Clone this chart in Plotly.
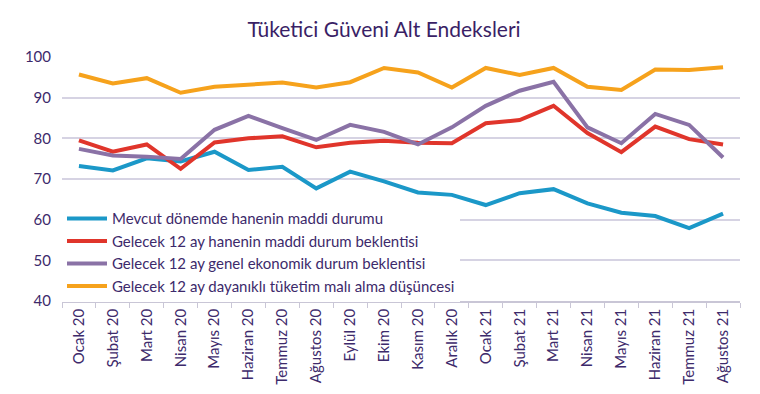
import plotly.graph_objects as go

months = ["Ocak 20", "Şubat 20", "Mart 20", "Nisan 20", "Mayıs 20", "Haziran 20",
          "Temmuz 20", "Ağustos 20", "Eylül 20", "Ekim 20", "Kasım 20", "Aralık 20",
          "Ocak 21", "Şubat 21", "Mart 21", "Nisan 21", "Mayıs 21", "Haziran 21",
          "Temmuz 21", "Ağustos 21"]

mevcut = [73.2, 72.1, 75.1, 74.3, 76.7, 72.2, 73.0, 67.7, 71.8, 69.4, 66.7, 66.1,
          63.6, 66.5, 67.5, 64.0, 61.7, 60.9, 57.9, 61.5]
hane_beklenti = [79.5, 76.7, 78.5, 72.5, 79.0, 80.0, 80.5, 77.8, 78.9, 79.4, 78.9, 78.8,
                 83.7, 84.5, 88.0, 81.3, 76.6, 82.9, 79.8, 78.5]
genel_beklenti = [77.4, 75.8, 75.5, 74.9, 82.1, 85.5, 82.5, 79.6, 83.3, 81.6, 78.5, 82.7,
                  88.0, 91.7, 93.9, 82.7, 78.8, 86.0, 83.3, 75.3]
dayanikli = [95.7, 93.5, 94.8, 91.2, 92.7, 93.3, 93.7, 92.5, 93.8, 97.3, 96.2, 92.5,
             97.3, 95.6, 97.3, 92.7, 91.9, 96.9, 96.8, 97.5]

series_names = ["Mevcut dönemde hanenin maddi durumu",
                "Gelecek 12 ay hanenin maddi durum beklentisi",
                "Gelecek 12 ay genel ekonomik durum beklentisi",
                "Gelecek 12 ay dayanıklı tüketim malı alma düşüncesi"]
y_ticks = [40, 50, 60, 70, 80, 90, 100]

colors = ["#1b98c8", "#e0352b", "#8a72a6", "#f6a21c"]
text_color = "#3d2a6b"

fig = go.Figure()
for name, vals, col in zip(series_names, [mevcut, hane_beklenti, genel_beklenti, dayanikli], colors):
    fig.add_trace(go.Scatter(x=months, y=vals, name=name, mode="lines",
                             line=dict(color=col, width=4)))

fig.update_layout(
    width=752, height=386,
    margin=dict(l=54, r=20, t=49, b=93),
    paper_bgcolor="white", plot_bgcolor="white",
    font=dict(family="Lato, 'Open Sans', sans-serif", color=text_color),
    title=dict(text="Tüketici Güveni Alt Endeksleri", x=0.5, xanchor="center",
               y=0.945, yanchor="middle",
               font=dict(size=21, color="#3a1f66")),
    legend=dict(x=0.0, xanchor="left", y=0.405, yanchor="top",
                bgcolor="white", font=dict(size=15, color=text_color),
                tracegroupgap=0, itemwidth=40),
    showlegend=True,
)
fig.update_xaxes(type="category", range=[-0.5, 19.5], tickangle=-90,
                 ticks="outside", tickson="boundaries", ticklen=5, automargin=False,
                 tickcolor="#c9c6d6", showline=True, linecolor="#c9c6d6", linewidth=1.5,
                 showgrid=False, tickfont=dict(size=15, color=text_color))
fig.update_yaxes(range=[40, 100], tickvals=y_ticks, showgrid=True, gridcolor="#d6d3e3",
                 gridwidth=1.5, zeroline=False, showline=False, ticks="", automargin=False,
                 ticklabelstandoff=10, tickfont=dict(size=15, color=text_color))

fig.write_html("out.html")
